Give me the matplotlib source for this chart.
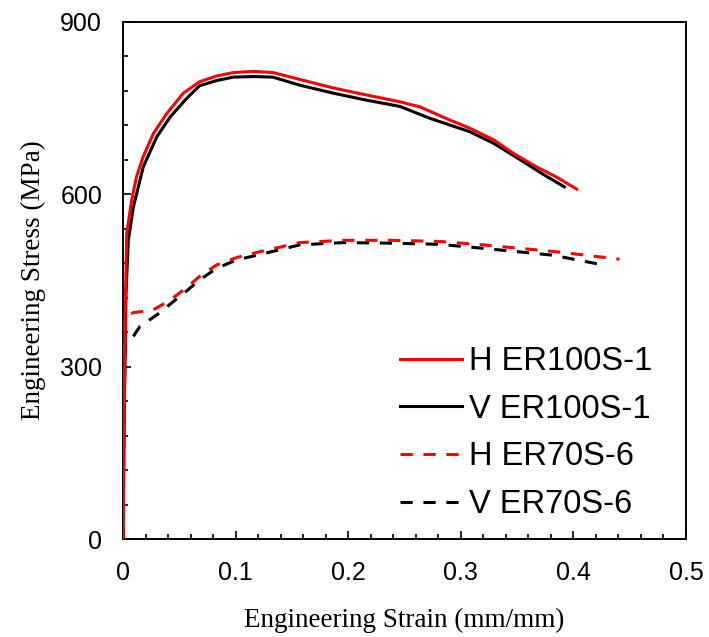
import matplotlib
matplotlib.use("Agg")
import matplotlib.pyplot as plt
from matplotlib.ticker import MultipleLocator

# ── Data ───────────────────────────────────────────────────────────────────
h100_strain = [0.0, 0.001, 0.002, 0.0033, 0.0077, 0.012, 0.018, 0.027, 0.039, 0.0535,
               0.068, 0.083, 0.098, 0.116, 0.133, 0.157, 0.187, 0.216, 0.246, 0.264,
               0.287, 0.308, 0.329, 0.347, 0.367, 0.385, 0.403]
h100_stress = [0, 200, 400, 532, 590, 631, 666, 706, 741, 776,
               796, 806, 812, 814, 812, 800, 785, 773, 761, 752,
               732, 715, 695, 671, 648, 630, 609]

v100_strain = [0.0, 0.001, 0.0025, 0.0047, 0.0092, 0.018, 0.030, 0.042, 0.0566, 0.068,
               0.083, 0.098, 0.116, 0.133, 0.157, 0.187, 0.216, 0.246, 0.273, 0.308,
               0.329, 0.353, 0.373, 0.392]
v100_stress = [0, 200, 420, 520, 578, 648, 700, 735, 767, 789,
               798, 804, 805, 804, 790, 776, 764, 753, 732, 709,
               689, 660, 635, 613]

h70_strain = [0.0, 0.0005, 0.001, 0.0018, 0.009, 0.027, 0.042, 0.0566, 0.068, 0.083,
              0.101, 0.119, 0.157, 0.196, 0.237, 0.281, 0.32, 0.385, 0.441]
h70_stress = [0, 150, 300, 387, 394, 399, 416, 438, 457, 477,
              490, 499, 516, 520, 520, 518, 512, 500, 487]

v70_strain = [0.0, 0.0005, 0.0018, 0.0062, 0.015, 0.030, 0.042, 0.0566, 0.068, 0.083,
              0.101, 0.119, 0.157, 0.196, 0.237, 0.281, 0.32, 0.382, 0.424]
v70_stress = [0, 150, 338, 344, 370, 390, 409, 432, 451, 471,
              486, 494, 512, 516, 515, 513, 506, 494, 478]

# ── Figure ─────────────────────────────────────────────────────────────────
fig = plt.figure(figsize=(7.09, 6.37), dpi=100)
ax = fig.add_axes([0.1735, 0.1538, 0.794, 0.8117])

lw = 2.2
ax.plot(h100_strain, h100_stress, color="#ff0000", lw=lw, label="H ER100S-1", zorder=4)
ax.plot(v100_strain, v100_stress, color="black", lw=lw, label="V ER100S-1", zorder=3)
ax.plot(h70_strain, h70_stress, color="#ff0000", lw=lw, dashes=(4, 3.5),
        label="H ER70S-6", zorder=4)
ax.plot(v70_strain, v70_stress, color="black", lw=lw, dashes=(4, 3.5),
        label="V ER70S-6", zorder=3)

ax.set_xlim(0, 0.5)
ax.set_ylim(0, 900)
ax.xaxis.set_minor_locator(MultipleLocator(0.02))
ax.yaxis.set_major_locator(MultipleLocator(300))
ax.yaxis.set_minor_locator(MultipleLocator(60))
ax.set_xticks([0, 0.1, 0.2, 0.3, 0.4, 0.5])
ax.set_xticklabels(["0", "0.1", "0.2", "0.3", "0.4", "0.5"])

ax.tick_params(which="both", direction="in", top=False, right=False,
               labelsize=18, width=1.2)
ax.tick_params(which="major", length=6)
ax.tick_params(which="minor", length=3.5)
ax.tick_params(axis="y", pad=15)
ax.tick_params(axis="x", pad=16)
for lbl in ax.get_xticklabels() + ax.get_yticklabels():
    lbl.set_family("Liberation Sans")
for sp in ax.spines.values():
    sp.set_linewidth(1.4)

ax.set_xlabel("Engineering Strain (mm/mm)", family="Liberation Serif",
              fontsize=19.5, labelpad=16)
ax.set_ylabel("Engineering Stress (MPa)", family="Liberation Serif",
              fontsize=19.5, labelpad=10)

ax.legend(loc="upper left", bbox_to_anchor=(0.492, 0.373), frameon=False,
          prop={"family": "Liberation Sans", "size": 23.5},
          handlelength=1.9, handletextpad=0.2, labelspacing=0.51,
          borderaxespad=0, borderpad=0)

fig.savefig("out.png", dpi=100)
